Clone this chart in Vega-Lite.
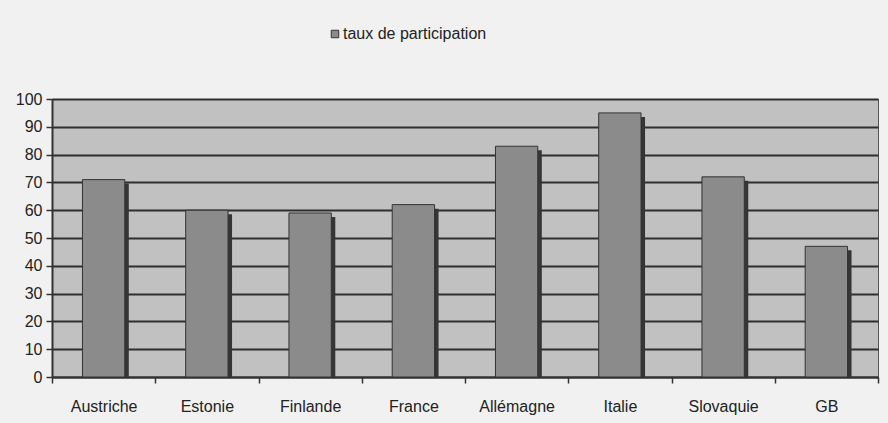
{
  "$schema": "https://vega.github.io/schema/vega-lite/v6.json",
  "width": 826,
  "height": 278,
  "autosize": {"type": "none"},
  "padding": {"left": 52, "top": 99, "right": 10, "bottom": 46},
  "background": "#f1f1f1",
  "config": {
    "font": "Liberation Sans",
    "view": {"fill": "#c1c1c1", "stroke": "#555", "strokeWidth": 1}
  },
  "data": {
    "values": [
      {"pays": "Austriche", "taux": 71, "serie": "taux de participation"},
      {"pays": "Estonie", "taux": 60, "serie": "taux de participation"},
      {"pays": "Finlande", "taux": 59, "serie": "taux de participation"},
      {"pays": "France", "taux": 62, "serie": "taux de participation"},
      {"pays": "Allémagne", "taux": 83, "serie": "taux de participation"},
      {"pays": "Italie", "taux": 95, "serie": "taux de participation"},
      {"pays": "Slovaquie", "taux": 72, "serie": "taux de participation"},
      {"pays": "GB", "taux": 47, "serie": "taux de participation"}
    ]
  },
  "encoding": {
    "x": {
      "field": "pays",
      "type": "nominal",
      "sort": null,
      "scale": {"paddingInner": 0, "paddingOuter": 0},
      "axis": {
        "title": null,
        "labelAngle": 0,
        "labelFontSize": 16,
        "labelColor": "#222",
        "labelPadding": 15,
        "tickBand": "extent",
        "tickSize": 6,
        "tickColor": "#333",
        "tickWidth": 1.5,
        "domainColor": "#333",
        "domainWidth": 2
      }
    },
    "y": {
      "field": "taux",
      "type": "quantitative",
      "scale": {"domain": [0, 100], "nice": false},
      "axis": {
        "title": null,
        "values": [0, 10, 20, 30, 40, 50, 60, 70, 80, 90, 100],
        "labelFontSize": 16,
        "labelColor": "#222",
        "labelPadding": 4,
        "tickSize": 6,
        "tickColor": "#333",
        "tickWidth": 1.5,
        "domainColor": "#333",
        "domainWidth": 2,
        "gridColor": "#2e2e2e",
        "gridWidth": 2,
        "gridOpacity": 1
      }
    }
  },
  "layer": [
    {
      "mark": {"type": "bar", "width": {"band": 0.41}, "xOffset": 4, "yOffset": 4, "fill": "#353535", "clip": true},
      "encoding": {}
    },
    {
      "mark": {"type": "bar", "width": {"band": 0.41}, "stroke": "#333", "strokeWidth": 1},
      "encoding": {
        "color": {
          "field": "serie",
          "type": "nominal",
          "scale": {"range": ["#8b8b8b"]},
          "legend": {
            "title": null,
            "orient": "none",
            "legendX": 275,
            "legendY": -73,
            "symbolType": "square",
            "symbolSize": 56,
            "symbolStrokeColor": "#333",
            "symbolStrokeWidth": 1,
            "labelFontSize": 16,
            "labelColor": "#222",
            "labelOffset": 0
          }
        }
      }
    }
  ]
}
